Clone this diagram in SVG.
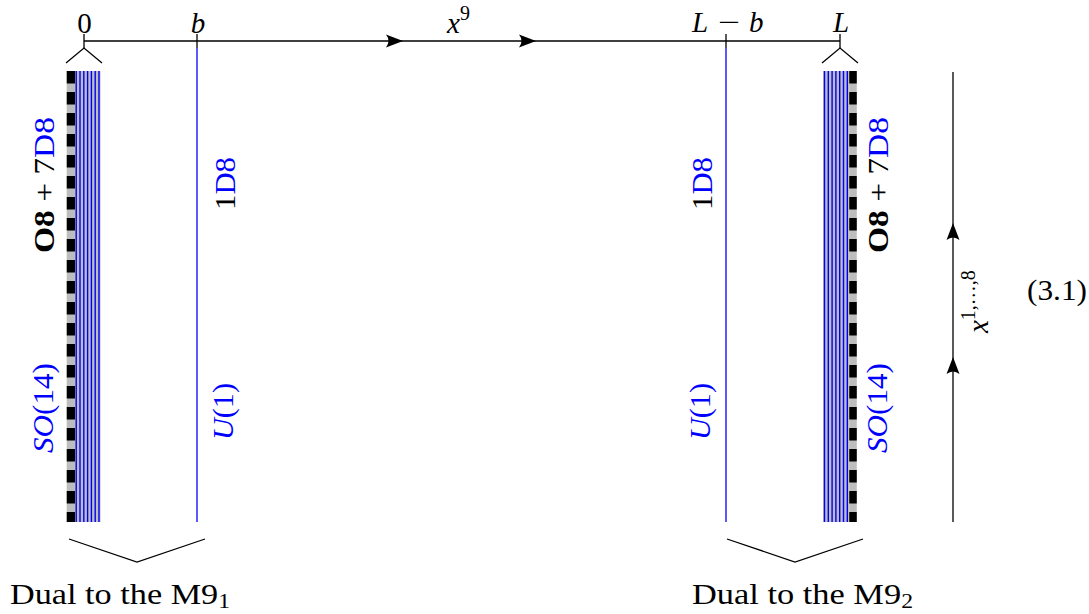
<svg xmlns="http://www.w3.org/2000/svg" width="1089" height="614" viewBox="0 0 1089 614">
<style>
text{font-family:"Liberation Serif","Times New Roman",serif;font-size:29px;fill:#000}
.it{font-style:italic}
.bl{fill:#0000ff}
.bd{font-weight:bold}
.ln{stroke:#000;stroke-width:1.3;fill:none}
.bln{stroke:#0000ff;stroke-width:1.3;fill:none}
.stripe{stroke:#0000ff;stroke-width:1.4}
.dash{stroke:#000;stroke-width:8.3;stroke-dasharray:12.5 8.5}
.gr{fill:#bdbdbd}
</style>
<defs>
<path id="ah" d="M0,0 L-17,-6.5 Q-12,0 -17,6.5 Z" fill="#000"/>
</defs>
<rect width="1089" height="614" fill="#fff"/>
<g id="connectors">
<line class="ln" x1="84" y1="41" x2="840" y2="41"/>
<use href="#ah" transform="translate(403,41)"/>
<use href="#ah" transform="translate(536,41)"/>
<line class="ln" x1="953" y1="72" x2="953" y2="522"/>
<use href="#ah" transform="translate(953,223) rotate(-90)"/>
<use href="#ah" transform="translate(953,357) rotate(-90)"/>
<polyline class="ln" points="69,539 137,562 205,539"/>
<polyline class="ln" points="727,539 795,562 863,539"/>
</g>
<g id="axis-labels">
<text x="84.5" y="33" text-anchor="middle">0</text>
<text class="it" x="198" y="33" text-anchor="middle">b</text>
<text y="32"><tspan class="it" x="692">L</tspan><tspan x="718" textLength="22" lengthAdjust="spacingAndGlyphs">−</tspan><tspan class="it" x="749">b</tspan></text>
<text class="it" x="841" y="32" text-anchor="middle">L</text>
<text x="447" y="33"><tspan class="it">x</tspan><tspan dy="-13" font-size="20">9</tspan></text>
<text transform="translate(988,333) rotate(-90)"><tspan class="it">x</tspan><tspan dy="-13" font-size="20">1,…,8</tspan></text>
<text x="1027" y="300" textLength="60" lengthAdjust="spacingAndGlyphs">(3.1)</text>
</g>
<g id="left-plane">
<line class="ln" x1="84" y1="34" x2="84" y2="48"/>
<polyline class="ln" points="66,63 84,48 102,63"/>
<rect class="gr" x="66.7" y="71" width="8.3" height="451"/>
<line class="dash" x1="70.9" y1="71" x2="70.9" y2="522"/>
<rect class="gr" x="75" y="71" width="25.5" height="451"/>
<line class="stripe" x1="76.2" y1="71" x2="76.2" y2="522"/>
<line class="stripe" x1="80" y1="71" x2="80" y2="522"/>
<line class="stripe" x1="83.8" y1="71" x2="83.8" y2="522"/>
<line class="stripe" x1="87.6" y1="71" x2="87.6" y2="522"/>
<line class="stripe" x1="91.4" y1="71" x2="91.4" y2="522"/>
<line class="stripe" x1="95.2" y1="71" x2="95.2" y2="522"/>
<line class="stripe" x1="99" y1="71" x2="99" y2="522"/>
<text transform="translate(54,185) rotate(-90)" text-anchor="middle" textLength="136" lengthAdjust="spacingAndGlyphs"><tspan class="bd">O8</tspan> + 7<tspan class="bl">D8</tspan></text>
<text class="bl" transform="translate(53,408) rotate(-90)" text-anchor="middle" textLength="90" lengthAdjust="spacingAndGlyphs"><tspan class="it">SO</tspan>(14)</text>
</g>
<g id="left-brane">
<line class="ln" x1="197" y1="34" x2="197" y2="48"/>
<line class="bln" x1="197" y1="48" x2="197" y2="522"/>
<text transform="translate(235,183.5) rotate(-90)" text-anchor="middle" textLength="53" lengthAdjust="spacingAndGlyphs">1<tspan class="bl">D8</tspan></text>
<text class="bl" transform="translate(233,411.5) rotate(-90)" text-anchor="middle" textLength="57" lengthAdjust="spacingAndGlyphs"><tspan class="it">U</tspan>(1)</text>
</g>
<g id="right-brane">
<line class="ln" x1="726" y1="34" x2="726" y2="48"/>
<line class="bln" x1="726" y1="48" x2="726" y2="522"/>
<text transform="translate(712,183.5) rotate(-90)" text-anchor="middle" textLength="53" lengthAdjust="spacingAndGlyphs">1<tspan class="bl">D8</tspan></text>
<text class="bl" transform="translate(710,411.5) rotate(-90)" text-anchor="middle" textLength="57" lengthAdjust="spacingAndGlyphs"><tspan class="it">U</tspan>(1)</text>
</g>
<g id="right-plane">
<line class="ln" x1="840" y1="34" x2="840" y2="48"/>
<polyline class="ln" points="822,63 840,48 858,63"/>
<rect class="gr" x="823" y="71" width="26.5" height="451"/>
<line class="stripe" x1="824.5" y1="71" x2="824.5" y2="522"/>
<line class="stripe" x1="828.3" y1="71" x2="828.3" y2="522"/>
<line class="stripe" x1="832.1" y1="71" x2="832.1" y2="522"/>
<line class="stripe" x1="835.9" y1="71" x2="835.9" y2="522"/>
<line class="stripe" x1="839.7" y1="71" x2="839.7" y2="522"/>
<line class="stripe" x1="843.5" y1="71" x2="843.5" y2="522"/>
<line class="stripe" x1="847.3" y1="71" x2="847.3" y2="522"/>
<rect class="gr" x="849.3" y="71" width="7.5" height="451"/>
<line class="dash" x1="853" y1="71" x2="853" y2="522" style="stroke-width:7.5"/>
<text transform="translate(888,185) rotate(-90)" text-anchor="middle" textLength="136" lengthAdjust="spacingAndGlyphs"><tspan class="bd">O8</tspan> + 7<tspan class="bl">D8</tspan></text>
<text class="bl" transform="translate(887,408) rotate(-90)" text-anchor="middle" textLength="90" lengthAdjust="spacingAndGlyphs"><tspan class="it">SO</tspan>(14)</text>
</g>
<g id="bottom-labels">
<text x="10" y="604" font-size="31" textLength="220" lengthAdjust="spacingAndGlyphs">Dual to the M9<tspan dy="4" font-size="20">1</tspan></text>
<text x="692" y="604" font-size="31" textLength="221" lengthAdjust="spacingAndGlyphs">Dual to the M9<tspan dy="4" font-size="20">2</tspan></text>
</g>
</svg>
